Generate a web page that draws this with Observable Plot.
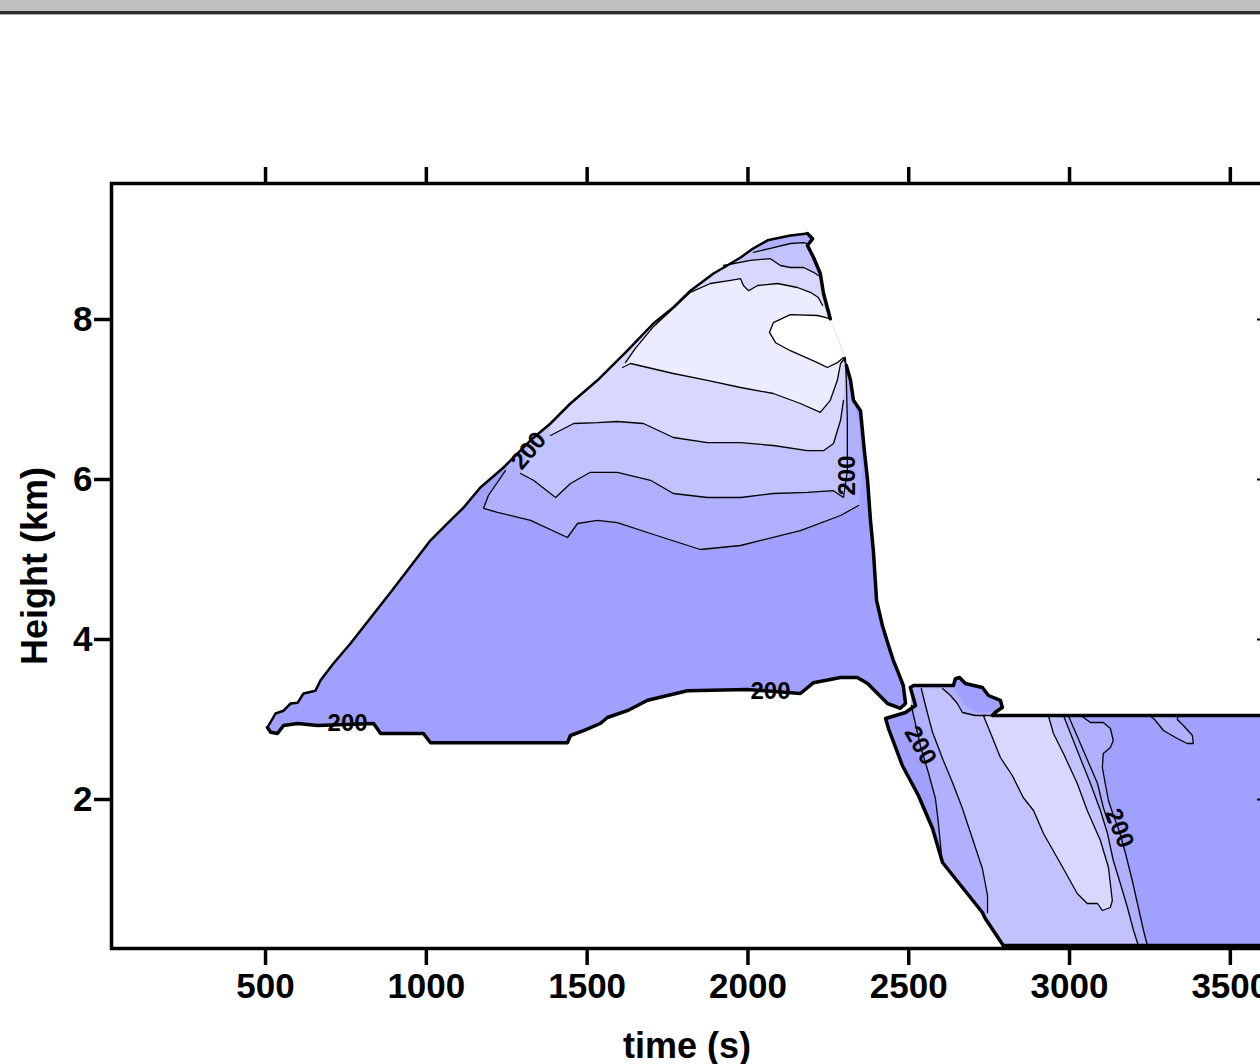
<!DOCTYPE html>
<html>
<head>
<meta charset="utf-8">
<script src="https://cdn.jsdelivr.net/npm/d3@7"></script>
<script src="https://cdn.jsdelivr.net/npm/@observablehq/plot@0.6"></script>
<style>
  html, body { margin: 0; padding: 0; background: #fff; overflow: hidden; }
  #bar { height: 11px; background: #c0c0c0; border-bottom: 3px solid #2e2e2e; }
  #bar2 { height: 1px; background: #a8a8a8; }
  #chart { width: 1300px; }
  #chart svg { display: block; max-width: none !important; }
</style>
</head>
<body>
<div id="bar"></div><div id="bar2"></div>
<div id="chart"></div>
<script>
// ---------- axes ----------
const xTicks = [500, 1000, 1500, 2000, 2500, 3000, 3500];
const yTicks = [2, 4, 6, 8];
const xDomain = [21, 3600];
const yDomain = [0.1375, 9.7];

// contour level fill colours (lowest -> highest)
const levelColors = ["#a0a0ff", "#b0b0ff", "#c2c2ff", "#d8d8ff", "#ececff"];

// ---------- left blob (time s, height km) ----------
const blobRightBottom = [[2306,7.425],[2319,7.24],[2328,6.99],[2350,6.86],[2362,6.36],[2372,5.99],[2381,5.49],[2390,5.11],[2400,4.49],[2418,4.175],[2437,3.925],[2452,3.74],[2465,3.61],[2483,3.425],[2490,3.20],[2474,3.14],[2434,3.20],[2372,3.45],[2340,3.525],[2288,3.525],[2204,3.46],[2163,3.325],[1998,3.375],[1812,3.36],[1688,3.24],[1625,3.11],[1563,3.025],[1541,2.95],[1489,2.86],[1448,2.80],[1439,2.71],[1013,2.71],[991,2.825],[858,2.825],[836,2.95],[662,2.925],[600,2.95],[556,2.925],[537,2.825],[516,2.84],[506,2.90]];
const blobLeftEdge = [[506,2.90],[531,3.075],[556,3.11],[578,3.20],[600,3.21],[618,3.325],[655,3.36],[671,3.49],[711,3.70],[764,3.95],[889,4.59],[1013,5.24],[1075,5.49],[1116,5.65],[1168,5.90],[1240,6.15],[1324,6.49],[1386,6.70],[1448,6.95],[1532,7.24],[1625,7.61],[1706,7.95],[1768,8.15],[1821,8.36],[1893,8.575],[1946,8.70],[1977,8.775],[2017,8.89],[2061,8.99],[2132,9.05],[2185,9.075]];
const blobPeakRight = [[2185,9.075],[2201,9.01],[2185,8.925],[2204,8.775],[2225,8.575],[2235,8.325],[2256,8.01]];
const notchPts = [[2256,8.01],[2216,8.05],[2132,8.06],[2079,7.96],[2067,7.84],[2086,7.71],[2132,7.61],[2216,7.46],[2247,7.40],[2278,7.46],[2297,7.525],[2306,7.425]];
const blobTop = [[2303,7.525],[2256,8.01],[2235,8.325],[2225,8.575],[2204,8.775],[2185,8.925],[2201,9.01],[2185,9.075],[2132,9.05],[2061,8.99],[2017,8.89],[1977,8.775],[1946,8.70],[1893,8.575],[1821,8.36],[1768,8.15],[1706,7.95],[1625,7.61],[1532,7.24],[1448,6.95],[1386,6.70],[1324,6.49],[1252,6.175]];

const lineA = [[1246,6.11],[1193,5.80],[1178,5.64],[1221,5.59],[1324,5.49],[1439,5.275],[1470,5.45],[1532,5.49],[1594,5.46],[1697,5.325],[1852,5.125],[1977,5.175],[2163,5.36],[2288,5.55],[2344,5.675]];
const lineAEdge = [[2356,6.11],[2344,6.74],[2319,7.175]];
const lineB = [[1293,6.075],[1333,5.99],[1402,5.775],[1448,5.95],[1510,6.09],[1594,6.09],[1697,5.99],[1768,5.825],[1874,5.775],[1977,5.775],[2079,5.825],[2185,5.84],[2266,5.86],[2297,5.775],[2309,6.11],[2309,6.74],[2306,7.24],[2303,7.525]];
const lineC = [[1386,6.55],[1458,6.70],[1532,6.71],[1594,6.725],[1675,6.70],[1768,6.525],[1874,6.46],[1977,6.46],[2079,6.425],[2185,6.36],[2235,6.36],[2266,6.45],[2288,6.74],[2297,6.99]];
const lineD = [[1610,7.40],[1635,7.45],[1768,7.325],[1874,7.24],[1977,7.15],[2079,7.075],[2163,6.95],[2225,6.84],[2256,6.99],[2278,7.24],[2288,7.45],[2303,7.525]];
const lineE = [[1619,7.46],[1650,7.64],[1706,7.91],[1768,8.14],[1821,8.34],[1883,8.45],[1946,8.49],[1977,8.51],[1986,8.425],[2002,8.36],[2030,8.425],[2092,8.45],[2154,8.40],[2194,8.34],[2219,8.275],[2232,8.175]];
const lineF = [[1924,8.675],[2008,8.74],[2070,8.76],[2101,8.675],[2132,8.65],[2173,8.65],[2204,8.59],[2219,8.55]];
const lineG = [[2017,8.84],[2070,8.89],[2132,8.95],[2173,8.96],[2191,8.94]];

// ---------- right region ----------
const rightEdge = [[2505,3.40],[2515,3.425],[2639,3.425],[2645,3.51],[2658,3.525],[2676,3.45],[2729,3.40],[2748,3.30],[2785,3.24],[2791,3.15],[2769,3.09],[2760,3.05],[3600,3.05],[3600,0.175],[2794,0.175],[2738,0.5125],[2729,0.5875],[2605,1.2125],[2574,1.6375],[2530,2.05],[2480,2.425],[2437,2.8875],[2428,3.0125],[2459,3.05],[2490,3.0875],[2521,3.175],[2505,3.40]];
const bumpTop = [[2645,3.49],[2658,3.525],[2676,3.45],[2729,3.40],[2748,3.30],[2785,3.24],[2791,3.15],[2769,3.09],[2707,3.09],[2676,3.175],[2654,3.30],[2639,3.41]];
const bumpLine = [[2605,3.3875],[2630,3.30],[2651,3.20],[2667,3.0875],[2707,3.05],[2738,3.05]];
const lineR1 = [[2508,3.175],[2536,2.675],[2561,2.3375],[2583,2.0125],[2592,1.7125],[2602,1.30]];
const lineR2 = [[2539,3.39],[2552,3.175],[2574,2.84],[2605,2.5125],[2636,2.2125],[2667,1.8875],[2698,1.5125],[2729,1.1375],[2745,0.80],[2745,0.5875]];
const loopR3 = [[2732,3.05],[2760,2.775],[2785,2.525],[2822,2.30],[2856,2.025],[2888,1.8625],[2919,1.575],[2972,1.20],[3024,0.825],[3055,0.70],[3087,0.70],[3102,0.6125],[3127,0.65],[3133,0.7375],[3121,1.15],[3096,1.4875],[3055,1.8625],[3024,2.20],[2981,2.575],[2950,2.825],[2934,3.05],[2732,3.05]];
const lineR4 = [[2981,3.05],[3024,2.6125],[3065,2.20],[3096,1.8625],[3118,1.575],[3136,1.2375],[3158,0.95],[3180,0.65],[3199,0.3625],[3214,0.175]];
const lineR5 = [[2996,3.05],[3043,2.6125],[3087,2.20],[3105,1.90],[3121,1.7125]];
const lineR6 = [[3035,3.05],[3065,2.9625],[3105,2.9625],[3127,2.8875],[3136,2.7375],[3127,2.65],[3105,2.575],[3102,2.40],[3111,2.20],[3121,1.9875],[3133,1.84],[3155,1.60],[3174,1.325],[3195,0.9875],[3214,0.65],[3230,0.3625],[3242,0.175]];
const ovalPts = [[3251,3.05],[3267,2.9875],[3292,2.8625],[3335,2.7625],[3366,2.70],[3385,2.70],[3382,2.80],[3354,2.925],[3335,3.0],[3338,3.05]];

// ---------- contour labels ----------
const labelT = [755, 1318, 2309, 2070, 2536, 3155];
const labelH = [2.95, 6.36, 6.05, 3.35, 2.675, 1.64];
const labelAngle = [0, -50, -90, 0, 60, 68];
const labelText = ["200", "200", "200", "200", "200", "200"];

// ---------- build polygons ----------
const rev = a => a.slice().reverse();
const blobPoly = [...blobRightBottom, ...blobLeftEdge.slice(1), ...blobPeakRight.slice(1), ...notchPts.slice(1)];
const blobL1 = [...lineA, ...lineAEdge, ...blobTop];
const blobL2 = [...lineB, ...blobTop.slice(1, 22)];
const blobL3 = [...lineC, ...blobTop.slice(0, 21)];
const peakL2 = [...lineF, ...blobTop.slice(3, 13)];
const peakL1 = [...lineG, ...blobTop.slice(6, 10)];
const blobL4 = [...lineD, blobTop[1], ...rev(lineE)];
const rightL1 = [...lineR1, [2605,1.2125],[2729,0.5875],[2738,0.5125],[2794,0.175], ...rev(lineR6),
  [2760,3.05],[2769,3.09],[2791,3.15],[2785,3.24],[2748,3.30],[2729,3.40],[2676,3.45],[2658,3.525],[2645,3.51],[2639,3.425],[2515,3.425],[2505,3.40]];
const rightL2 = [...lineR2, [2738,0.5125],[2794,0.175], ...rev(lineR4), ...rev(bumpLine)];

const fills = [
  [blobPoly, levelColors[0]],
  [blobL1, levelColors[1]],
  [blobL2, levelColors[2]],
  [blobL3, levelColors[3]],
  [peakL2, levelColors[2]],
  [peakL1, levelColors[1]],
  [blobL4, levelColors[4]],
  [notchPts, "#ffffff"],
  [rightEdge, levelColors[0]],
  [rightL1, levelColors[1]],
  [rightL2, levelColors[2]],
  [loopR3, levelColors[3]],
  [ovalPts, levelColors[1]],
  [bumpTop, levelColors[0]]
];
const thinLines = [lineA, lineB, lineC, lineD, lineE, lineF, lineG, notchPts,
  lineR1, lineR2, loopR3, lineR4, lineR5, lineR6, ovalPts, bumpLine];
const thickLines = [blobRightBottom, blobPeakRight, rightEdge];

const X = d => d[0], Y = d => d[1];
const font = "'Liberation Sans', Arial, Helvetica, sans-serif";
const plain = d => String(d);

const marks = [];
for (const [pts, color] of fills) {
  marks.push(Plot.line(pts, {x: X, y: Y, fill: color, stroke: "none", curve: "linear"}));
}
for (const pts of thinLines) {
  marks.push(Plot.line(pts, {x: X, y: Y, stroke: "black", strokeWidth: 1.3, curve: "linear"}));
}
for (const pts of thickLines) {
  marks.push(Plot.line(pts, {x: X, y: Y, stroke: "black", strokeWidth: 3.5, strokeLinejoin: "round", curve: "linear"}));
}
marks.push(Plot.line(blobLeftEdge, {x: X, y: Y, stroke: "black", strokeWidth: 2.5, curve: "linear"}));

const labels = labelText.map((s, i) => ({t: labelT[i], h: labelH[i], a: labelAngle[i], s}));
marks.push(Plot.text(labels, {x: "t", y: "h", text: "s", rotate: "a", fontSize: 24, fontWeight: "bold", fill: "black"}));

marks.push(
  Plot.frame({stroke: "black", strokeWidth: 3.5}),
  Plot.axisX(xTicks, {anchor: "bottom", tickSize: 17, tickPadding: 8, tickFormat: plain, fontSize: 35, fontWeight: "bold", strokeWidth: 3.5, label: null}),
  Plot.axisX(xTicks, {anchor: "top", tickSize: 17, tickFormat: () => "", strokeWidth: 3.5, label: null}),
  Plot.axisY(yTicks, {anchor: "left", tickSize: 17, tickPadding: 2, tickFormat: plain, fontSize: 35, fontWeight: "bold", strokeWidth: 3.5, label: null}),
  Plot.axisY(yTicks, {anchor: "right", tickSize: 6, dx: -6, tickFormat: () => "", strokeWidth: 2, label: null}),
  Plot.text(["time (s)"], {frameAnchor: "bottom", dy: 98, textAnchor: "middle", fontSize: 36, fontWeight: "bold", lineAnchor: "middle"}),
  Plot.text(["Height (km)"], {frameAnchor: "left", dx: -76, rotate: -90, textAnchor: "middle", fontSize: 36, fontWeight: "bold", lineAnchor: "middle"})
);

const chart = Plot.plot({
  width: 1300,
  height: 1049,
  marginTop: 168,
  marginBottom: 116,
  marginLeft: 111,
  marginRight: 38,
  x: {domain: xDomain},
  y: {domain: yDomain},
  style: {fontFamily: font, background: "white", color: "black", maxWidth: "none"},
  marks
});
chart.style.maxWidth = "none";
chart.style.width = "1300px";
chart.style.height = "1049px";
document.getElementById("chart").appendChild(chart);
</script>
</body>
</html>
